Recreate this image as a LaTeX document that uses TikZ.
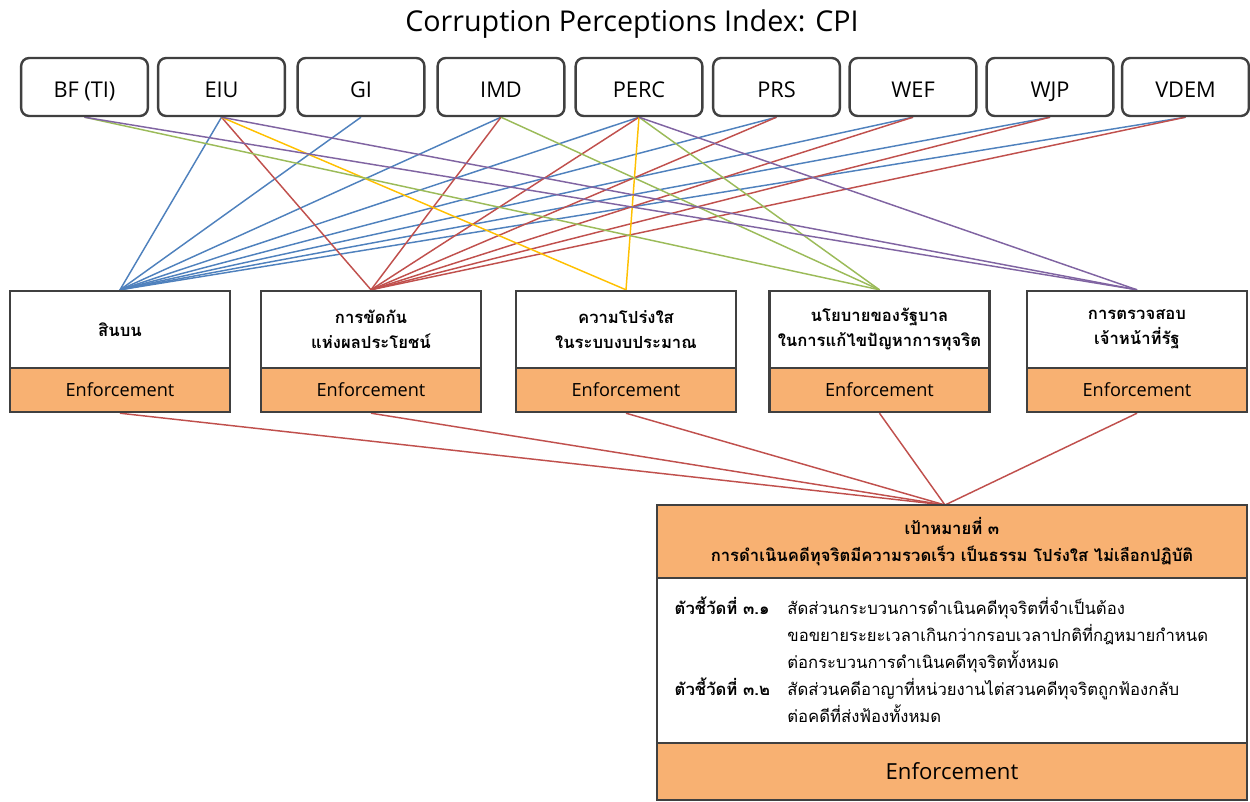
\documentclass[tikz,border=0pt]{standalone}
\usepackage{fontspec}
\setmainfont{Open Sans}
\newfontfamily\thai[Script=Thai]{Loma}
\usepackage{tikz}
\usetikzlibrary{backgrounds}

\definecolor{lnblue}{HTML}{4F81BD}
\definecolor{lnred}{HTML}{C0504D}
\definecolor{lngreen}{HTML}{9BBB59}
\definecolor{lnpurple}{HTML}{8064A2}
\definecolor{lnyellow}{HTML}{FFC000}
\definecolor{enforce}{HTML}{F8B172}
\definecolor{boxline}{HTML}{404040}

\begin{document}
\begin{tikzpicture}[x=0.75pt,y=-0.75pt,
        srcbox/.style={draw=boxline,line width=1.8pt,rounded corners=6pt,fill=white,
                minimum width=95pt,minimum height=43.5pt,inner sep=0pt,
                text height=16pt,text depth=0pt,
                font=\fontsize{16.3}{19}\selectfont},
        topicbox/.style={draw=boxline,line width=1.8pt,fill=white,
                minimum width=165pt,minimum height=57.75pt,inner sep=0pt,align=center,
                font=\thai\bfseries\fontsize{12.5}{18.75}\selectfont},
        enfbox/.style={draw=boxline,line width=1.8pt,fill=enforce,
                minimum width=165pt,minimum height=33pt,inner sep=0pt,
                font=\fontsize{13.6}{16}\selectfont},
        conn/.style={line width=1.1pt}]
        \useasboundingbox (0,0) rectangle (1250,801);
        \node[font=\fontsize{21.5}{25}\selectfont] (title) at (632,24) {Corruption Perceptions Index: CPI};
        % sources
        \node[srcbox] (bf) at (84.5,87) {BF (TI)};
        \node[srcbox] (eiu) at (221.5,87) {EIU};
        \node[srcbox] (gi) at (361,87) {GI};
        \node[srcbox] (imd) at (501,87) {IMD};
        \node[srcbox] (perc) at (639,87) {PERC};
        \node[srcbox] (prs) at (776.5,87) {PRS};
        \node[srcbox] (wef) at (913,87) {WEF};
        \node[srcbox] (wjp) at (1050,87) {WJP};
        \node[srcbox] (vdem) at (1185.5,87) {VDEM};
        % topics
        \node[topicbox] (bribe) at (120,329.5) {สินบน};
        \node[enfbox] (bribeE) at (120,390) {Enforcement};
        \node[topicbox] (conflict) at (371,329.5) {การขัดกัน\\แห่งผลประโยชน์};
        \node[enfbox] (conflictE) at (371,390) {Enforcement};
        \node[topicbox] (budget) at (626,329.5) {ความโปร่งใส\\ในระบบงบประมาณ};
        \node[enfbox] (budgetE) at (626,390) {Enforcement};
        \node[topicbox] (policy) at (879.5,329.5) {นโยบายของรัฐบาล\\ในการแก้ไขปัญหาการทุจริต};
        \node[enfbox] (policyE) at (879.5,390) {Enforcement};
        \node[topicbox] (audit) at (1137,329.5) {การตรวจสอบ\\เจ้าหน้าที่รัฐ};
        \node[enfbox] (auditE) at (1137,390) {Enforcement};
        % goal
        \node[draw=boxline,line width=1.8pt,fill=enforce,minimum width=442.5pt,minimum height=54.75pt,
                inner sep=0pt,align=center,font=\thai\bfseries\fontsize{12.5}{20.25}\selectfont]
                (goal) at (952,541.5) {เป้าหมายที่ ๓\\การดำเนินคดีทุจริตมีความรวดเร็ว เป็นธรรม โปร่งใส ไม่เลือกปฏิบัติ};
        \node[draw=boxline,line width=1.8pt,fill=white,minimum width=442.5pt,minimum height=123.75pt,
                inner sep=0pt] (body) at (952,660.5) {};
        \node[anchor=west,inner sep=0pt,font=\thai\fontsize{12.5}{20.25}\selectfont]
                (ind) at ([xshift=14pt,yshift=-2.25pt]body.west) {%
                \begin{tabular}{@{}l@{\hspace{13pt}}l@{}}
                \textbf{ตัวชี้วัดที่ ๓.๑} & สัดส่วนกระบวนการดำเนินคดีทุจริตที่จำเป็นต้อง\\
                 & ขอขยายระยะเวลาเกินกว่ากรอบเวลาปกติที่กฎหมายกำหนด\\
                 & ต่อกระบวนการดำเนินคดีทุจริตทั้งหมด\\
                \textbf{ตัวชี้วัดที่ ๓.๒} & สัดส่วนคดีอาญาที่หน่วยงานไต่สวนคดีทุจริตถูกฟ้องกลับ\\
                 & ต่อคดีที่ส่งฟ้องทั้งหมด
                \end{tabular}};
        \node[draw=boxline,line width=1.8pt,fill=enforce,minimum width=442.5pt,minimum height=42.75pt,
                inner sep=0pt,font=\fontsize{16.6}{20}\selectfont] (goalE) at (952,771.5) {Enforcement};
        \coordinate (meet) at (945,505);
        \begin{scope}[on background layer]
        \draw[conn,lnblue] (eiu.south) -- (bribe.north);
        \draw[conn,lnblue] (gi.south) -- (bribe.north);
        \draw[conn,lnblue] (imd.south) -- (bribe.north);
        \draw[conn,lnblue] (perc.south) -- (bribe.north);
        \draw[conn,lnblue] (prs.south) -- (bribe.north);
        \draw[conn,lnblue] (wef.south) -- (bribe.north);
        \draw[conn,lnblue] (wjp.south) -- (bribe.north);
        \draw[conn,lnblue] (vdem.south) -- (bribe.north);
        \draw[conn,lnred] (eiu.south) -- (conflict.north);
        \draw[conn,lnred] (imd.south) -- (conflict.north);
        \draw[conn,lnred] (perc.south) -- (conflict.north);
        \draw[conn,lnred] (prs.south) -- (conflict.north);
        \draw[conn,lnred] (wef.south) -- (conflict.north);
        \draw[conn,lnred] (wjp.south) -- (conflict.north);
        \draw[conn,lnred] (vdem.south) -- (conflict.north);
        \draw[conn,lnyellow] (eiu.south) -- (budget.north);
        \draw[conn,lnyellow] (perc.south) -- (budget.north);
        \draw[conn,lngreen] (bf.south) -- (policy.north);
        \draw[conn,lngreen] (imd.south) -- (policy.north);
        \draw[conn,lngreen] (perc.south) -- (policy.north);
        \draw[conn,lnpurple] (bf.south) -- (audit.north);
        \draw[conn,lnpurple] (eiu.south) -- (audit.north);
        \draw[conn,lnpurple] (perc.south) -- (audit.north);
        \draw[conn,lnred] (bribeE.south) -- (meet);
        \draw[conn,lnred] (conflictE.south) -- (meet);
        \draw[conn,lnred] (budgetE.south) -- (meet);
        \draw[conn,lnred] (policyE.south) -- (meet);
        \draw[conn,lnred] (auditE.south) -- (meet);
        \end{scope}
\end{tikzpicture}
\end{document}
